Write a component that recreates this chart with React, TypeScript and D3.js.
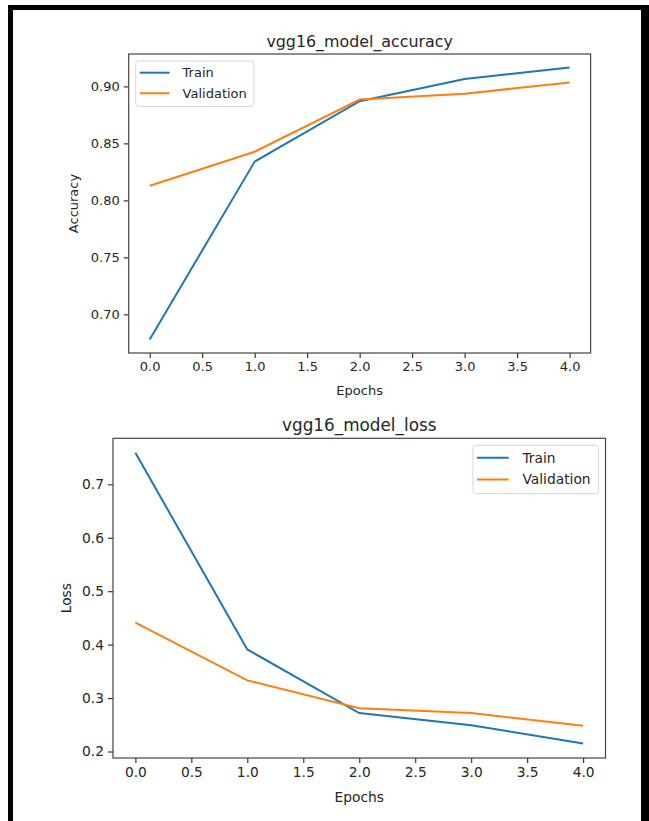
import React, { useEffect, useRef } from "react";
import * as d3 from "d3";

// epochs and per-epoch metrics
const epochs = [0, 1, 2, 3, 4];
const trainAcc = [0.678, 0.834, 0.887, 0.9065, 0.9165];
const valAcc = [0.8128, 0.8427, 0.8885, 0.8935, 0.9035];
const trainLoss = [0.759, 0.391, 0.272, 0.249, 0.215];
const valLoss = [0.441, 0.333, 0.281, 0.272, 0.248];

const epochTicks = [0, 0.5, 1, 1.5, 2, 2.5, 3, 3.5, 4];
const accTicks = [0.7, 0.75, 0.8, 0.85, 0.9];
const lossTicks = [0.2, 0.3, 0.4, 0.5, 0.6, 0.7];
const seriesNames = ["Train", "Validation"];
const colors = ["#1f77b4", "#ff7f0e"];

const FONT = "DejaVu Sans, sans-serif";
const INK = "#262626";

function drawPanel(svg, p) {
    const { left, right, top, bottom, fs, title, ylabel, ylabelGap, series, yTicks, yFmt, legendRight } = p;
    const all = series.flat();
    const lo = d3.min(all);
    const hi = d3.max(all);
    const pad = (hi - lo) * 0.05;
    const x = d3.scaleLinear().domain([-0.2, 4.2]).range([left, right]);
    const y = d3.scaleLinear().domain([lo - pad, hi + pad]).range([bottom, top]);

    const g = svg.append("g").style("font-family", FONT);

    const xAxis = d3.axisBottom(x).tickValues(epochTicks).tickFormat(d3.format(".1f")).tickSize(5).tickPadding(4);
    const yAxis = d3.axisLeft(y).tickValues(yTicks).tickFormat(d3.format(yFmt)).tickSize(5).tickPadding(4);

    const gx = g.append("g").attr("transform", `translate(0,${bottom})`).call(xAxis);
    const gy = g.append("g").attr("transform", `translate(${left},0)`).call(yAxis);
    [gx, gy].forEach(a => {
        a.select(".domain").remove();
        a.selectAll("line").attr("stroke", INK).attr("stroke-width", 1.1);
        a.selectAll("text").attr("fill", INK).style("font-size", fs + "px").style("font-family", FONT);
    });

    const line = d3
        .line()
        .x((d, i) => x(epochs[i]))
        .y(d => y(d));

    series.forEach((s, i) => {
        g.append("path")
            .attr("d", line(s))
            .attr("fill", "none")
            .attr("stroke", colors[i])
            .attr("stroke-width", 2);
    });

    g.append("rect")
        .attr("x", left)
        .attr("y", top)
        .attr("width", right - left)
        .attr("height", bottom - top)
        .attr("fill", "none")
        .attr("stroke", "#444")
        .attr("stroke-width", 1.2);

    g.append("text")
        .attr("x", (left + right) / 2)
        .attr("y", top - 7)
        .attr("text-anchor", "middle")
        .attr("fill", INK)
        .style("font-size", fs * 1.22 + "px")
        .text(title);

    g.append("text")
        .attr("x", (left + right) / 2)
        .attr("y", bottom + fs * 3.2)
        .attr("text-anchor", "middle")
        .attr("fill", INK)
        .style("font-size", fs + "px")
        .text("Epochs");

    g.append("text")
        .attr("transform", `translate(${left - ylabelGap},${(top + bottom) / 2}) rotate(-90)`)
        .attr("text-anchor", "middle")
        .attr("fill", INK)
        .style("font-size", fs + "px")
        .text(ylabel);

    // legend
    const lw = fs * 9.1;
    const lh = fs * 3.5;
    const lx = legendRight ? right - 7 - lw : left + 7;
    const ly = top + 7;
    const rowGap = fs * 1.58;
    const lg = g.append("g").attr("transform", `translate(${lx},${ly})`);
    lg.append("rect")
        .attr("width", lw)
        .attr("height", lh)
        .attr("rx", 3)
        .attr("fill", "#fff")
        .attr("fill-opacity", 0.8)
        .attr("stroke", "#d6d6d6");
    seriesNames.forEach((name, i) => {
        const cy = fs * 0.9 + i * rowGap;
        lg.append("line")
            .attr("x1", 4)
            .attr("x2", 4 + fs * 2.3)
            .attr("y1", cy)
            .attr("y2", cy)
            .attr("stroke", colors[i])
            .attr("stroke-width", 2);
        lg.append("text")
            .attr("x", 4 + fs * 3.3)
            .attr("y", cy)
            .attr("dy", "0.36em")
            .attr("fill", INK)
            .style("font-size", fs + "px")
            .text(name);
    });
}

function App() {
    const ref = useRef();
    useEffect(() => {
        const svg = d3.select(ref.current);
        svg.selectAll("*").remove();
        svg.append("rect").attr("width", 649).attr("height", 821).attr("fill", "#fff");

        drawPanel(svg, {
            left: 128.7,
            right: 590.6,
            top: 54,
            bottom: 353,
            fs: 13,
            title: "vgg16_model_accuracy",
            ylabel: "Accuracy",
            ylabelGap: 51,
            series: [trainAcc, valAcc],
            yTicks: accTicks,
            yFmt: ".2f",
            legendRight: false,
        });
        drawPanel(svg, {
            left: 113,
            right: 605.5,
            top: 438.3,
            bottom: 758,
            fs: 13.8,
            title: "vgg16_model_loss",
            ylabel: "Loss",
            ylabelGap: 42,
            series: [trainLoss, valLoss],
            yTicks: lossTicks,
            yFmt: ".1f",
            legendRight: true,
        });

        // notebook frame
        svg.append("rect").attr("x", 8).attr("y", 5).attr("width", 641).attr("height", 5).attr("fill", "#000");
        svg.append("rect").attr("x", 8).attr("y", 5).attr("width", 5).attr("height", 816).attr("fill", "#000");
        svg.append("rect").attr("x", 641).attr("y", 5).attr("width", 8).attr("height", 816).attr("fill", "#000");
    }, []);

    return <svg ref={ref} width={649} height={821} style={{ position: "absolute", left: 0, top: 0 }} />;
}

export default App;
